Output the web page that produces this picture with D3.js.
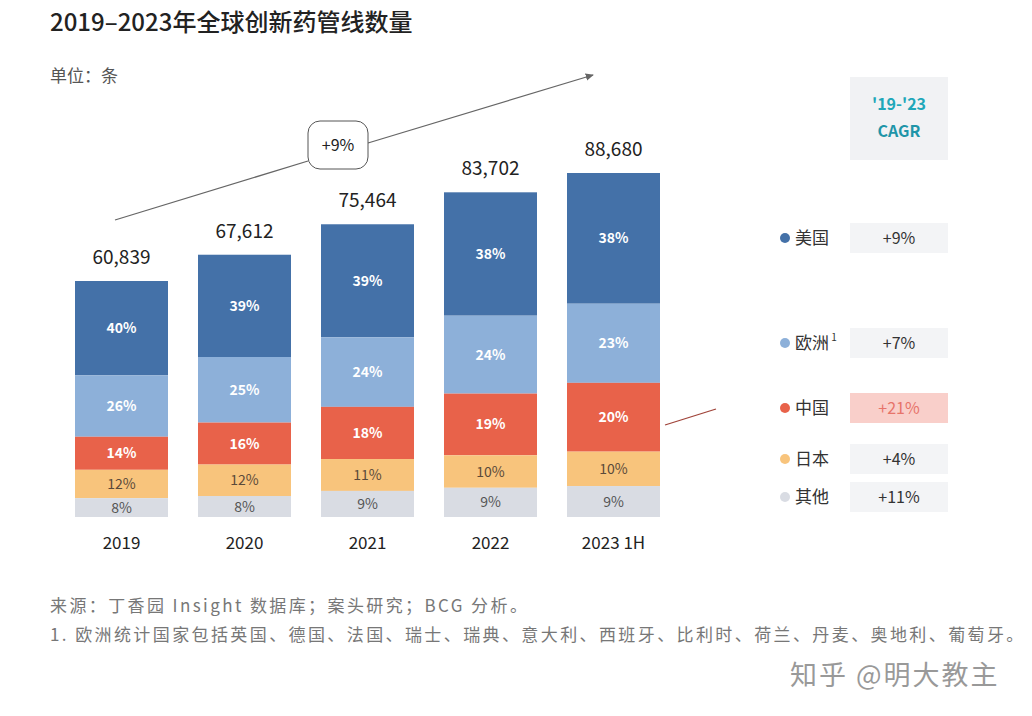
<!DOCTYPE html>
<html><head><meta charset="utf-8">
<script src="https://cdn.jsdelivr.net/npm/d3@7"></script>
<style>
body{margin:0;background:#fff;}
svg{font-family:"Noto Sans CJK SC","Noto Sans",sans-serif;}
</style></head>
<body><svg id="c" width="1032" height="716"></svg>
<script>
const years = ["2019","2020","2021","2022","2023 1H"];
const totals = [60839, 67612, 75464, 83702, 88680];
const regions = ["美国","欧洲","中国","日本","其他"];
const shareUS = [40, 39, 39, 38, 38];
const shareEU = [26, 25, 24, 24, 23];
const shareCN = [14, 16, 18, 19, 20];
const shareJP = [12, 12, 11, 10, 10];
const shareOT = [8, 8, 9, 9, 9];
const cagr = ["+9%","+7%","+21%","+4%","+11%"];
const overallCagr = "+9%";
const colors = ["#4471a8","#8db0d9","#e8624a","#f8c47c","#d9dce3"];
const labelColors = ["#fff","#fff","#fff","#5a4a3a","#555"];

const svg = d3.select("#c");
svg.append("rect").attr("width",1032).attr("height",716).attr("fill","#fff");

// Title
svg.append("text").attr("x",50).attr("y",31).attr("font-size",24).attr("font-weight",500)
  .attr("fill","#222").text("2019–2023年全球创新药管线数量");
svg.append("text").attr("x",50).attr("y",82).attr("font-size",17).attr("fill","#555").text("单位：条");

const shares = [shareUS, shareEU, shareCN, shareJP, shareOT];
const rows = years.map((y,i)=>{
  const sum = shares.reduce((a,s)=>a+s[i],0);
  const r = {year:y, total:totals[i]};
  regions.forEach((k,j)=>{ r[k] = totals[i]*shares[j][i]/sum; r[k+"_p"] = shares[j][i]; });
  return r;
});

const x = d3.scaleBand().domain(years).range([60, 675]).paddingInner(30/123).paddingOuter(15/123);
const y = d3.scaleLinear().domain([0, d3.max(totals)]).range([517, 173]);

const stack = d3.stack().keys(regions).order(d3.stackOrderReverse)(rows);
const g = svg.append("g");
stack.forEach((layer,j)=>{
  const lg = g.append("g");
  lg.selectAll("rect").data(layer).join("rect")
    .attr("x",d=>x(d.data.year)).attr("width",x.bandwidth())
    .attr("y",d=>y(d[1])).attr("height",d=>y(d[0])-y(d[1]))
    .attr("fill",colors[j]);
  lg.selectAll("text").data(layer).join("text")
    .attr("x",d=>x(d.data.year)+x.bandwidth()/2)
    .attr("y",d=>(y(d[0])+y(d[1]))/2+5)
    .attr("text-anchor","middle").attr("font-size",14)
    .attr("font-weight", j<3?700:400)
    .attr("fill",labelColors[j])
    .text(d=>d.data[regions[j]+"_p"]+"%");
});

// totals
g.selectAll("text.tot").data(rows).join("text").attr("class","tot")
  .attr("x",d=>x(d.year)+x.bandwidth()/2).attr("y",d=>y(d.total)-17)
  .attr("text-anchor","middle").attr("font-size",19).attr("fill","#222")
  .text(d=>d3.format(",")(d.total));

// year axis labels
const xAxis = d3.axisBottom(x).tickSize(0).tickPadding(0);
const ax = svg.append("g").attr("transform","translate(0,549)").call(xAxis);
ax.select(".domain").remove();
ax.selectAll("text").attr("font-size",17).attr("fill","#222")
  .attr("font-family","'Noto Sans CJK SC','Noto Sans',sans-serif").attr("dy","0");

// trend arrow
svg.append("defs").append("marker").attr("id","ah").attr("viewBox","0 0 10 10")
  .attr("refX",8).attr("refY",5).attr("markerWidth",7).attr("markerHeight",7).attr("orient","auto")
  .append("path").attr("d","M0,1 L9,5 L0,9 z").attr("fill","#666");
svg.append("line").attr("x1",115).attr("y1",220).attr("x2",308).attr("y2",161)
  .attr("stroke","#666").attr("stroke-width",1.3);
svg.append("line").attr("x1",368).attr("y1",143).attr("x2",593).attr("y2",75)
  .attr("stroke","#666").attr("stroke-width",1.3).attr("marker-end","url(#ah)");
svg.append("rect").attr("x",308).attr("y",121).attr("width",60).attr("height",48).attr("rx",12)
  .attr("fill","#fff").attr("stroke","#555").attr("stroke-width",1);
svg.append("text").attr("x",338).attr("y",151).attr("text-anchor","middle").attr("font-size",16)
  .attr("fill","#222").text(overallCagr);

// CAGR header
svg.append("rect").attr("x",850).attr("y",77).attr("width",98).attr("height",83).attr("fill","#f1f2f4");
svg.append("text").attr("x",899).attr("y",110).attr("text-anchor","middle").attr("font-size",16)
  .attr("font-weight",700).attr("fill","#20a7b9").text("'19-'23");
svg.append("text").attr("x",899).attr("y",137).attr("text-anchor","middle").attr("font-size",16)
  .attr("font-weight",700).attr("fill","#1f95a8").text("CAGR");

// legend
const legY = [238, 343, 408, 459, 497];
const leg = svg.append("g");
regions.forEach((r,i)=>{
  const cy = legY[i];
  leg.append("circle").attr("cx",785).attr("cy",cy).attr("r",5).attr("fill",colors[i]);
  const t = leg.append("text").attr("x",795).attr("y",cy+6).attr("font-size",17).attr("fill","#333").text(r);
  if(i===1) t.append("tspan").attr("font-size",10).attr("dy",-8).text(" 1");
  const hi = i===2;
  leg.append("rect").attr("x",850).attr("y",cy-15).attr("width",98).attr("height",30)
    .attr("fill",hi?"#f9cfca":"#f3f4f6");
  leg.append("text").attr("x",899).attr("y",cy+6).attr("text-anchor","middle").attr("font-size",16)
    .attr("fill",hi?"#e7746a":"#333").text(cagr[i]);
});
// connector line from China segment
svg.append("line").attr("x1",665).attr("y1",425).attr("x2",716).attr("y2",409)
  .attr("stroke","#a0443a").attr("stroke-width",1.3);

// footnotes
svg.append("text").attr("x",50).attr("y",612).attr("font-size",17).attr("letter-spacing",2.4).attr("fill","#777")
  .text("来源：丁香园 Insight 数据库；案头研究；BCG 分析。");
svg.append("text").attr("x",50).attr("y",641).attr("font-size",17).attr("letter-spacing",2.4).attr("fill","#777")
  .text("1. 欧洲统计国家包括英国、德国、法国、瑞士、瑞典、意大利、西班牙、比利时、荷兰、丹麦、奥地利、葡萄牙。");
svg.append("text").attr("x",790).attr("y",685).attr("font-size",27).attr("letter-spacing",2).attr("fill","#999")
  .text("知乎 @明大教主");
</script></body></html>
